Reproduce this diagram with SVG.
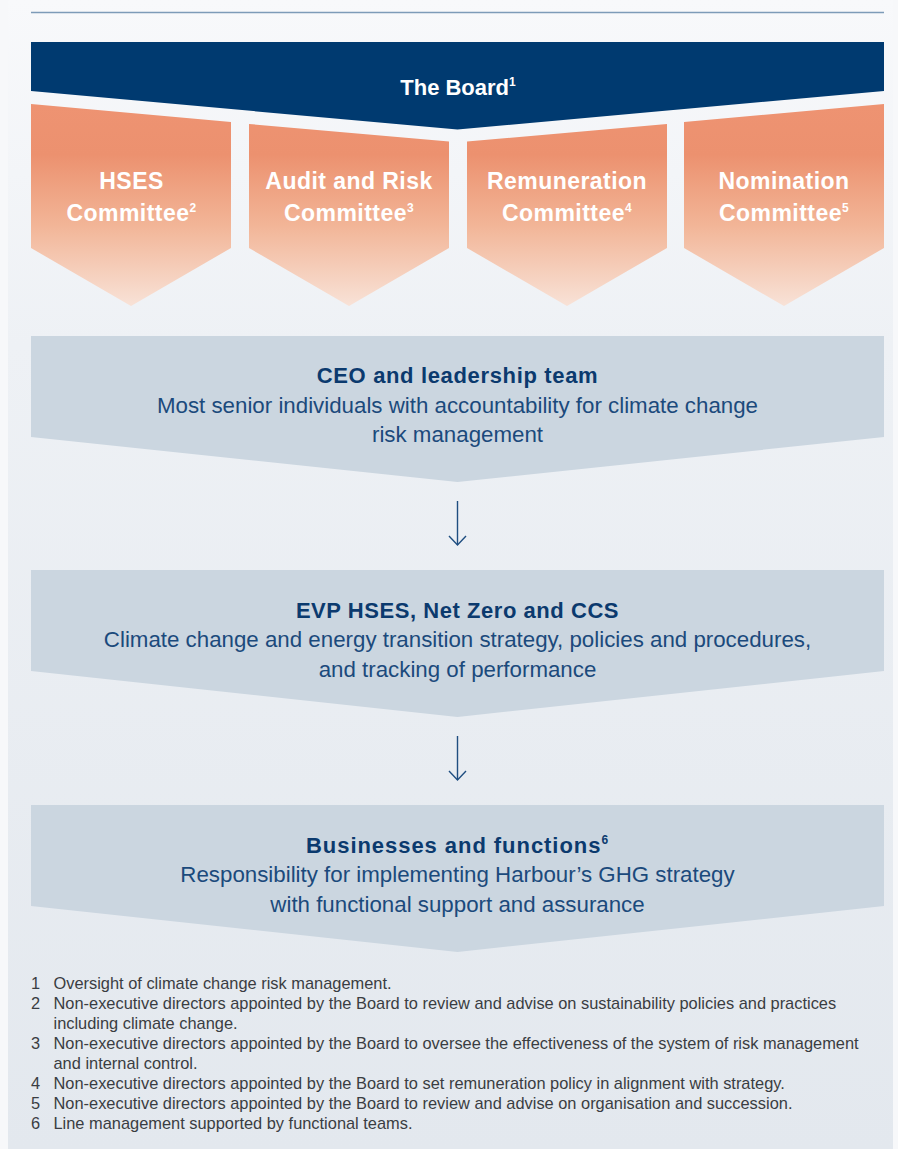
<svg xmlns="http://www.w3.org/2000/svg" width="898" height="1149" viewBox="0 0 898 1149">
<defs>
<linearGradient id="bg" x1="0" y1="0" x2="0" y2="1149" gradientUnits="userSpaceOnUse">
<stop offset="0" stop-color="#f8f9fb"/>
<stop offset="0.3" stop-color="#eef1f5"/>
<stop offset="1" stop-color="#e3e8ee"/>
</linearGradient>
<linearGradient id="orange" x1="0" y1="104" x2="0" y2="306" gradientUnits="userSpaceOnUse">
<stop offset="0" stop-color="#ee9372"/>
<stop offset="0.25" stop-color="#ec916f"/>
<stop offset="0.6" stop-color="#f2b597"/>
<stop offset="1" stop-color="#f8e2d7"/>
</linearGradient>
<marker id="arrowhead" viewBox="-1 -10 12 20" refX="9" refY="0" markerWidth="12" markerHeight="20" markerUnits="userSpaceOnUse" orient="auto">
<path d="M0,-8.5 L9,0 L0,8.5" fill="none" stroke="#1f4e80" stroke-width="1.4"/>
</marker>
</defs>
<style>
.board{fill:#003a70}
.comm{fill:url(#orange)}
.box{fill:#cbd6e0}
.wt{font-family:"Liberation Sans",Arial,sans-serif;font-weight:bold;fill:#ffffff;text-anchor:middle}
.ct{font-size:23px;letter-spacing:0.45px}
.ttl{font-family:"Liberation Sans",Arial,sans-serif;font-weight:bold;fill:#0b3a6e;text-anchor:middle;font-size:22px}
.sub{font-family:"Liberation Sans",Arial,sans-serif;fill:#1b4a7c;text-anchor:middle;font-size:22.3px}
.fn{font-family:"Liberation Sans",Arial,sans-serif;fill:#3a3d42;font-size:16.4px}
.conn{stroke:#1f4e80;stroke-width:1.4;fill:none}
</style>
<rect x="0" y="0" width="898" height="1149" fill="#f7f8fa"/>
<rect x="8" y="0" width="885" height="1149" fill="url(#bg)"/>
<line x1="31" y1="12.5" x2="884" y2="12.5" stroke="#7d9bb8" stroke-width="1.5"/>

<g id="board">
<polygon class="board" points="31,42 884,42 884,91 457.5,129.5 31,91"/>
<text class="wt" x="458" y="95" font-size="22">The Board<tspan font-size="12" dy="-9">1</tspan></text>
</g>

<g id="hses">
<polygon class="comm" points="31,104 231,122 231,248 131,306 31,248"/>
<text class="wt ct" x="131.5" y="189">HSES</text>
<text class="wt ct" x="131.5" y="221">Committee<tspan font-size="12" dy="-9">2</tspan></text>
</g>

<g id="audit">
<polygon class="comm" points="249,124 449,141.5 449,248 349,306 249,248"/>
<text class="wt ct" x="349" y="189">Audit and Risk</text>
<text class="wt ct" x="349" y="221">Committee<tspan font-size="12" dy="-9">3</tspan></text>
</g>

<g id="remuneration">
<polygon class="comm" points="467,141.5 667,124 667,248 567,306 467,248"/>
<text class="wt ct" x="567" y="189">Remuneration</text>
<text class="wt ct" x="567" y="221">Committee<tspan font-size="12" dy="-9">4</tspan></text>
</g>

<g id="nomination">
<polygon class="comm" points="684,122 884,104 884,248 784,306 684,248"/>
<text class="wt ct" x="784" y="189">Nomination</text>
<text class="wt ct" x="784" y="221">Committee<tspan font-size="12" dy="-9">5</tspan></text>
</g>

<g id="ceo">
<polygon class="box" points="31,336 884,336 884,437 457.5,482 31,437"/>
<text class="ttl" x="457.5" y="383" letter-spacing="0.65">CEO and leadership team</text>
<text class="sub" x="457.5" y="413">Most senior individuals with accountability for climate change</text>
<text class="sub" x="457.5" y="442">risk management</text>
</g>

<g id="evp">
<polygon class="box" points="31,570 884,570 884,671 457.5,717 31,671"/>
<text class="ttl" x="457.5" y="618" letter-spacing="0.55">EVP HSES, Net Zero and CCS</text>
<text class="sub" x="457.5" y="647">Climate change and energy transition strategy, policies and procedures,</text>
<text class="sub" x="457.5" y="677">and tracking of performance</text>
</g>

<g id="businesses">
<polygon class="box" points="31,805 884,805 884,906 457.5,952 31,906"/>
<text class="ttl" x="457.5" y="853" letter-spacing="0.95">Businesses and functions<tspan font-size="12" dy="-9">6</tspan></text>
<text class="sub" x="457.5" y="882">Responsibility for implementing Harbour’s GHG strategy</text>
<text class="sub" x="457.5" y="912">with functional support and assurance</text>
</g>

<g id="connectors">
<line class="conn" x1="457.5" y1="501" x2="457.5" y2="545" marker-end="url(#arrowhead)"/>
<line class="conn" x1="457.5" y1="736" x2="457.5" y2="780" marker-end="url(#arrowhead)"/>
</g>

<g id="footnotes">
<text class="fn" x="31" y="989">1</text><text class="fn" x="53.5" y="989">Oversight of climate change risk management.</text>
<text class="fn" x="31" y="1009">2</text><text class="fn" x="53.5" y="1009">Non-executive directors appointed by the Board to review and advise on sustainability policies and practices</text>
<text class="fn" x="53.5" y="1029">including climate change.</text>
<text class="fn" x="31" y="1049">3</text><text class="fn" x="53.5" y="1049">Non-executive directors appointed by the Board to oversee the effectiveness of the system of risk management</text>
<text class="fn" x="53.5" y="1069">and internal control.</text>
<text class="fn" x="31" y="1089">4</text><text class="fn" x="53.5" y="1089">Non-executive directors appointed by the Board to set remuneration policy in alignment with strategy.</text>
<text class="fn" x="31" y="1109">5</text><text class="fn" x="53.5" y="1109">Non-executive directors appointed by the Board to review and advise on organisation and succession.</text>
<text class="fn" x="31" y="1129">6</text><text class="fn" x="53.5" y="1129">Line management supported by functional teams.</text>
</g>
</svg>
